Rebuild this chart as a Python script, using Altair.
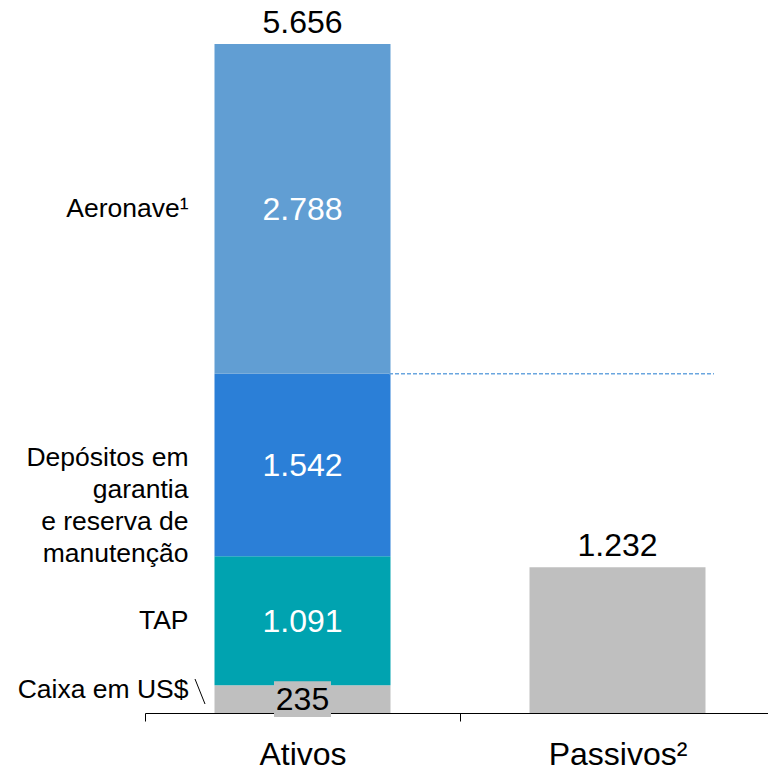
import altair as alt
import pandas as pd

# ---- data ----
categories = ["Ativos", "Passivos²"]
segments = ["Caixa em US$", "TAP", "Depósitos em\ngarantia\ne reserva de\nmanutenção", "Aeronave¹"]
seg_values = [235, 1091, 1542, 2788]
seg_colors = ["#bfbfbf", "#00a3b0", "#2b7fd7", "#619ed3"]
seg_text_colors = ["black", "white", "white", "white"]
passivos_value = 1232


def fmt(v):
    return f"{v:,}".replace(",", ".")


rows = []
start = 0
for i, (s, v) in enumerate(zip(segments, seg_values)):
    rows.append(dict(cat=categories[0], seg=s, value=v, start=start, end=start + v,
                     mid=start + v / 2, label=fmt(v), tcolor=seg_text_colors[i], order=i))
    start += v
seg_df = pd.DataFrame(rows)

totals_df = pd.DataFrame({
    "cat": categories,
    "start": [0, 0],
    "end": [sum(seg_values), passivos_value],
    "label": [fmt(sum(seg_values)), fmt(passivos_value)],
})

FONT = "Liberation Sans"

x_enc = alt.X(
    "cat:N",
    scale=alt.Scale(domain=categories, paddingInner=0, paddingOuter=0),
    axis=alt.Axis(title=None, labelAngle=0, labelFontSize=32, labelColor="black",
                  labelFont=FONT, tickBand="extent", tickSize=8, tickColor="black",
                  domainColor="black", labelPadding=18, grid=False),
)
y_scale = alt.Scale(domain=[0, sum(seg_values)], nice=False, zero=True)

seg_base = alt.Chart(seg_df)

bars = seg_base.mark_bar(size=176).encode(
    x=x_enc,
    y=alt.Y("start:Q", scale=y_scale, axis=None),
    y2="end:Q",
    color=alt.Color("seg:N", scale=alt.Scale(domain=segments, range=seg_colors), legend=None),
)

passivo_bar = alt.Chart(totals_df).transform_filter(
    alt.datum.cat == categories[1]
).mark_bar(size=176, color="#bfbfbf").encode(
    x=x_enc,
    y=alt.Y("start:Q", scale=y_scale, axis=None),
    y2="end:Q",
)

# gray background box behind the small "235" label
box = seg_base.transform_filter(alt.datum.order == 0).mark_point(
    shape="M-1,-0.63L1,-0.63L1,0.63L-1,0.63Z", size=3249, filled=True,
    color="#bfbfbf", opacity=1, strokeWidth=0,
).encode(x=x_enc, y=alt.Y("mid:Q", scale=y_scale, axis=None))

seg_text = seg_base.mark_text(font=FONT, fontSize=32, baseline="middle", dy=1).encode(
    x=x_enc,
    y=alt.Y("mid:Q", scale=y_scale, axis=None),
    text="label:N",
    color=alt.Color("tcolor:N", scale=None),
)

total_text = alt.Chart(totals_df).mark_text(
    font=FONT, fontSize=32, baseline="alphabetic", dy=-11, color="black"
).encode(
    x=x_enc,
    y=alt.Y("end:Q", scale=y_scale, axis=None),
    text="label:N",
)

def side_label(order, dy):
    return seg_base.transform_filter(alt.datum.order == order).mark_text(
        font=FONT, fontSize=26.5, align="right", baseline="middle", dx=-114, dy=dy,
        lineBreak="\n", lineHeight=32, color="black",
    ).encode(
        x=x_enc,
        y=alt.Y("mid:Q", scale=y_scale, axis=None),
        text="seg:N",
    )

labels = side_label(3, 0) + side_label(2, -7) + side_label(1, 0) + side_label(0, -9)

leader = alt.Chart(totals_df).transform_filter(alt.datum.cat == categories[0]).mark_rule(
    color="black", strokeWidth=1
).encode(x=alt.value(50), x2=alt.value(60), y=alt.value(635), y2=alt.value(660))

dash = seg_base.transform_filter(alt.datum.order == 2).mark_rule(
    color="#6aa6df", strokeWidth=1.5, strokeDash=[4, 2]
).encode(
    x=alt.value(244), x2=alt.value(569),
    y=alt.Y("end:Q", scale=y_scale, axis=None),
)

chart = alt.layer(
    bars, passivo_bar, dash, box, seg_text, total_text, labels, leader
).properties(
    width=630, height=669,
    padding={"left": 137, "top": 36, "right": -7, "bottom": 54},
    autosize=alt.AutoSizeParams(type="none"),
).configure(background="white").configure_view(stroke=None)

chart.save("out.html", embed_options={"renderer": "svg", "actions": False})
